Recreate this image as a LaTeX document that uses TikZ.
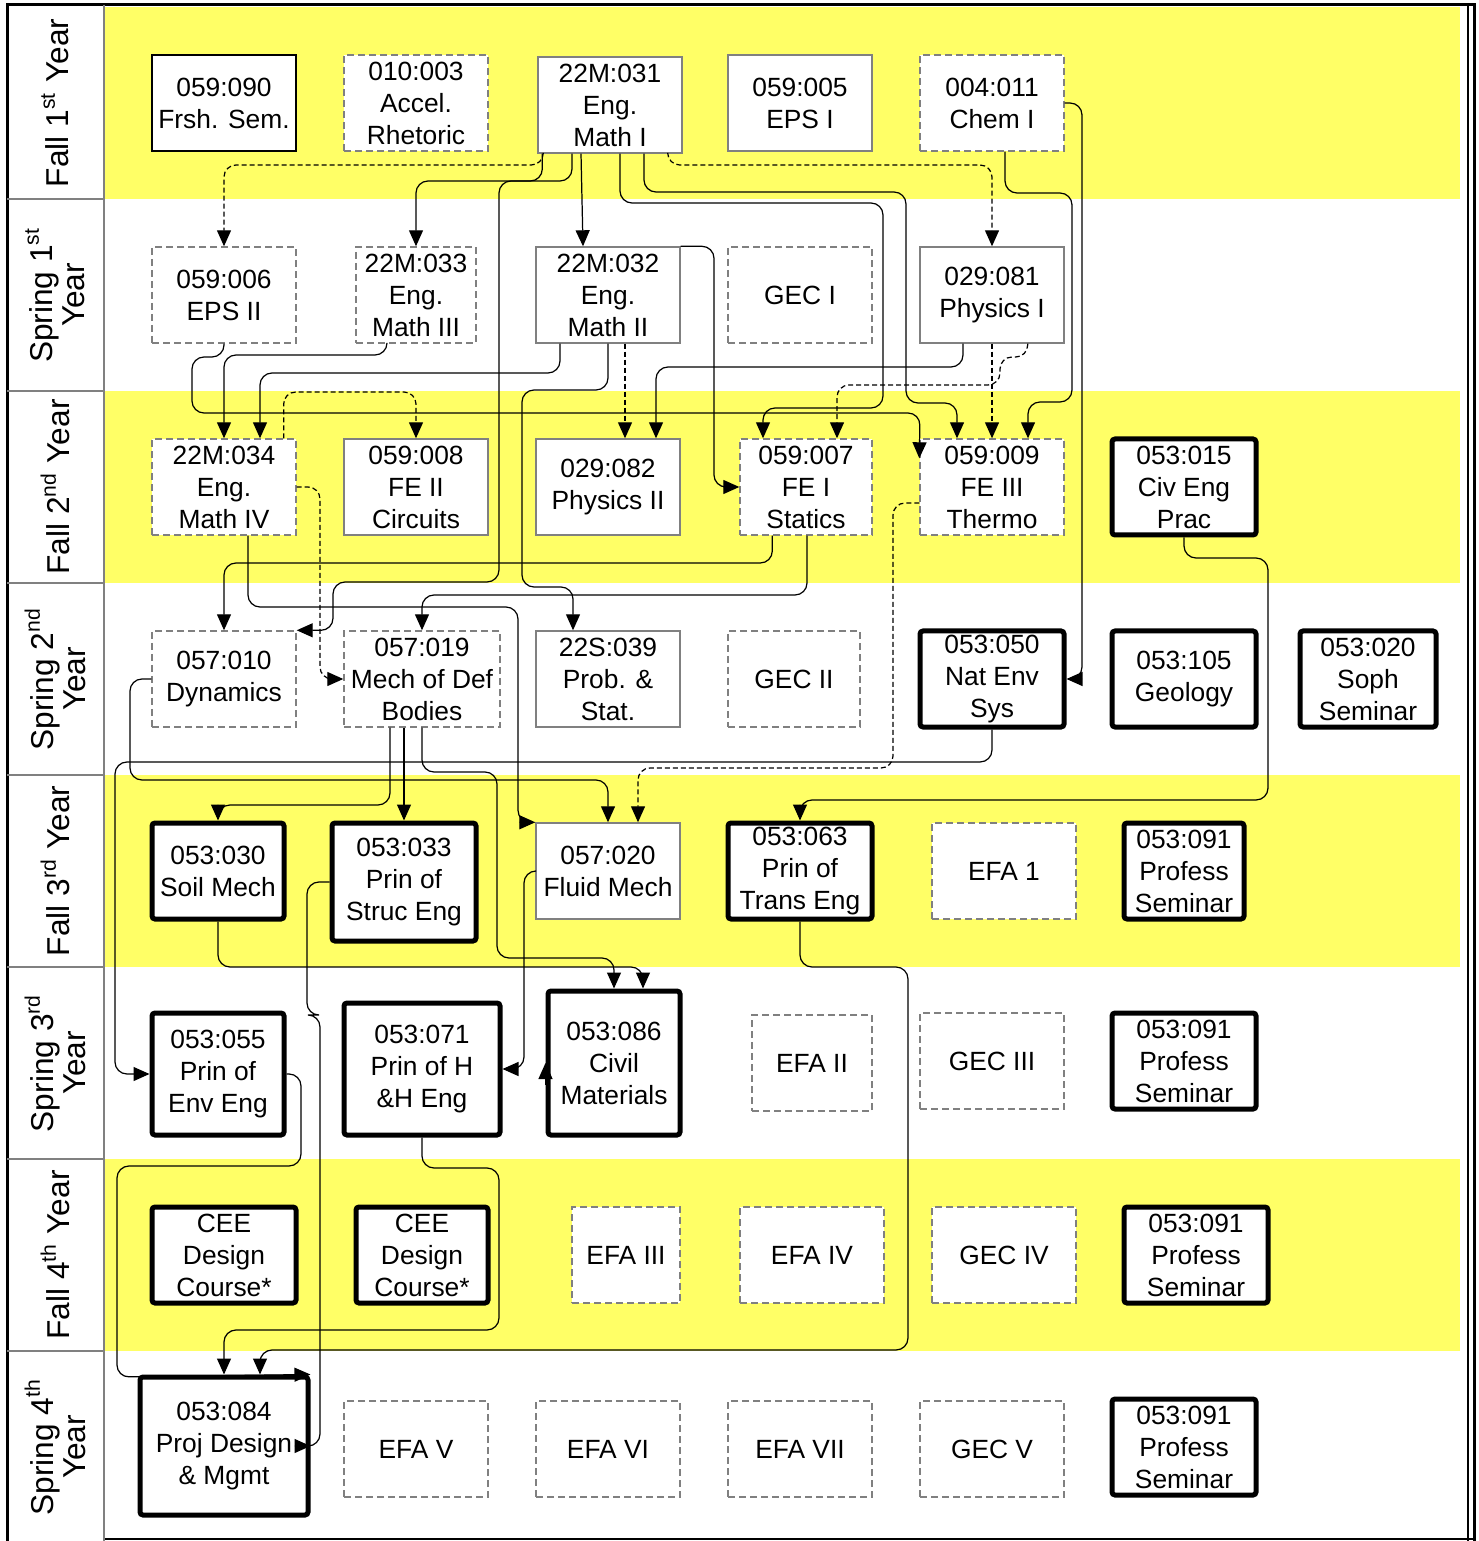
\documentclass[tikz,border=0pt]{standalone}
\usepackage{fontspec}
\setmainfont{Liberation Sans}
\usetikzlibrary{arrows.meta, calc}
\definecolor{termyellow}{RGB}{255,255,102}

\begin{document}
\begin{tikzpicture}[
  x=0.1mm, y=-0.1mm,
  box/.style={rectangle, fill=white, minimum width=14.4mm, minimum height=9.6mm, inner sep=0pt, align=center, font=\fontsize{7.5}{9.1}\selectfont},
  basebox/.style={box, draw=gray, line width=0.4pt},
  optbox/.style={box, draw=gray, line width=0.4pt, dash pattern=on 0.7mm off 0.4mm},
  reqbox/.style={box, draw=black, line width=0.5mm, rounded corners=0.3mm},
  semibox/.style={box, draw=black, line width=0.6pt},
  rowlab/.style={rotate=90, align=center, font=\fontsize{9}{9.1}\selectfont},
  arrow/.style={-{Triangle[length=1.6mm, width=1.4mm]}, line width=0.35pt, rounded corners=1.2mm},
  coarrow/.style={arrow, dash pattern=on 0.5mm off 0.3mm},
  gridline/.style={gray, line width=0.4pt}
]
\useasboundingbox (0,0) rectangle (1478,1541);

% Term bands and frame
\foreach \r in {0,2,4,6}
  \fill[termyellow] (104,{7+\r*192}) rectangle (1460,{199+\r*192});
\draw[line width=0.3mm] (7,1541) -- (7,5) -- (1474,5) -- (1474,1541);
\draw[line width=0.4pt] (1468,5) -- (1468,1541);
\draw[line width=0.4pt] (104,1539) -- (1474,1539);
\draw[gridline] (104,5) -- (104,1541);
\foreach \y in {199,391,583,775,967,1159,1351}
  \draw[gridline] (7,\y) -- (104,\y);

% Row labels
\foreach \y/\t [count=\i] in {103/{Fall 1\textsuperscript{st} Year}, 295/{Spring 1\textsuperscript{st}\\Year},
    487/{Fall 2\textsuperscript{nd} Year}, 679/{Spring 2\textsuperscript{nd}\\Year},
    871/{Fall 3\textsuperscript{rd} Year}, 1063/{Spring 3\textsuperscript{rd}\\Year},
    1255/{Fall 4\textsuperscript{th} Year}, 1447/{Spring 4\textsuperscript{th}\\Year}}
  \node[rowlab] (row\i) at (55,\y) {\t};

% Fall 1st year
\node[semibox] (frsh) at (224,103) {059:090\\Frsh. Sem.};
\node[optbox] (rhet) at (416,103) {010:003\\Accel.\\Rhetoric};
\node[basebox] (mathI) at (610,105) {22M:031\\Eng.\\Math I};
\node[basebox] (epsI) at (800,103) {059:005\\EPS I};
\node[optbox] (chem) at (992,103) {004:011\\Chem I};

% Spring 1st year
\node[optbox] (epsII) at (224,295) {059:006\\EPS II};
\node[optbox, minimum width=12mm] (mathIII) at (416,295) {22M:033\\Eng.\\Math III};
\node[basebox] (mathII) at (608,295) {22M:032\\Eng.\\Math II};
\node[optbox] (gecI) at (800,295) {GEC I};
\node[basebox] (physI) at (992,295) {029:081\\Physics I};

% Fall 2nd year
\node[optbox] (mathIV) at (224,487) {22M:034\\Eng.\\Math IV};
\node[basebox] (feII) at (416,487) {059:008\\FE II\\Circuits};
\node[basebox] (physII) at (608,487) {029:082\\Physics II};
\node[optbox, minimum width=13.2mm] (feI) at (806,487) {059:007\\FE I\\Statics};
\node[optbox] (feIII) at (992,487) {059:009\\FE III\\Thermo};
\node[reqbox] (civprac) at (1184,487) {053:015\\Civ Eng\\Prac};

% Spring 2nd year
\node[optbox] (dyn) at (224,679) {057:010\\Dynamics};
\node[optbox, minimum width=15.6mm] (mech) at (422,679) {057:019\\Mech of Def\\Bodies};
\node[basebox] (stat) at (608,679) {22S:039\\Prob. \&\\Stat.};
\node[optbox, minimum width=13.2mm] (gecII) at (794,679) {GEC II};
\node[reqbox] (natenv) at (992,679) {053:050\\Nat Env\\Sys};
\node[reqbox] (geol) at (1184,679) {053:105\\Geology};
\node[reqbox, minimum width=13.6mm] (soph) at (1368,679) {053:020\\Soph\\Seminar};

% Fall 3rd year
\node[reqbox, minimum width=13.2mm] (soil) at (218,871) {053:030\\Soil Mech};
\node[reqbox, minimum height=11.8mm] (struc) at (404,882) {053:033\\Prin of\\Struc Eng};
\node[basebox] (fluid) at (608,871) {057:020\\Fluid Mech};
\node[reqbox] (trans) at (800,871) {053:063\\Prin of\\Trans Eng};
\node[optbox] (efaI) at (1004,871) {EFA 1};
\node[reqbox, minimum width=12mm] (profI) at (1184,871) {053:091\\Profess\\Seminar};

% Spring 3rd year
\node[reqbox, minimum width=13.2mm, minimum height=12.2mm] (envEng) at (218,1074) {053:055\\Prin of\\Env Eng};
\node[reqbox, minimum width=15.6mm, minimum height=13.2mm] (hh) at (422,1069) {053:071\\Prin of H\\\&H Eng};
\node[reqbox, minimum width=13.2mm, minimum height=14.4mm] (civmat) at (614,1063) {053:086\\Civil\\Materials};
\node[optbox, minimum width=12mm] (efaII) at (812,1063) {EFA II};
\node[optbox] (gecIII) at (992,1061) {GEC III};
\node[reqbox] (profII) at (1184,1061) {053:091\\Profess\\Seminar};

% Fall 4th year
\node[reqbox] (ceeA) at (224,1255) {CEE\\Design\\Course*};
\node[reqbox, minimum width=13.2mm] (ceeB) at (422,1255) {CEE\\Design\\Course*};
\node[optbox, minimum width=10.8mm] (efaIII) at (626,1255) {EFA III};
\node[optbox] (efaIV) at (812,1255) {EFA IV};
\node[optbox] (gecIV) at (1004,1255) {GEC IV};
\node[reqbox] (profIII) at (1196,1255) {053:091\\Profess\\Seminar};

% Spring 4th year
\node[reqbox, minimum width=16.8mm, minimum height=13.8mm] (proj) at (224,1446) {053:084\\Proj Design\\\& Mgmt};
\node[optbox] (efaV) at (416,1449) {EFA V};
\node[optbox] (efaVI) at (608,1449) {EFA VI};
\node[optbox] (efaVII) at (800,1449) {EFA VII};
\node[optbox] (gecV) at (992,1449) {GEC V};
\node[reqbox] (profIV) at (1184,1447) {053:091\\Profess\\Seminar};

% Corequisites (dashed)
\draw[coarrow] ($(mathI.south west)+(6,0)$) |- (224,165) -- (epsII.north);
\draw[coarrow] ($(mathI.south east)+(-15,0)$) |- (992,165) -- (physI.north);
\draw[coarrow] (physI.south) -- (feIII.north);
\draw[coarrow] ($(physI.south east)+(-37,0)$) |- (1000,357) |- (837,385) -- ($(feI.north)+(31,0)$);
\draw[coarrow] ($(mathII.south)+(17,0)$) -- ($(physII.north)+(17,0)$);
\draw[coarrow] ($(mathIV.north east)+(-13,0)$) |- (416,392) -- (feII.north);
\draw[coarrow] (mathIV.east) -| (320,679) -- (mech.west);
\draw[coarrow] ($(feIII.west)+(0,16)$) -| (893,768) -| ($(fluid.north)+(30,0)$);

% Prerequisites out of the first year
\draw[arrow] ($(mathI.south)+(-38,0)$) |- (416,181) -- (mathIII.north);
\draw[arrow] ($(mathI.south)+(-29,0)$) -- ($(mathII.north)+(-25,0)$);
\draw[arrow] ($(mathI.south west)+(5,0)$) |- (499,181) |- (333,582) |- (dyn.north east);
\draw[arrow] ($(mathI.south)+(10,0)$) |- (883,203) |- (763,408) -- ($(feI.north)+(-43,0)$);
\draw[arrow] ($(mathI.south)+(34,0)$) |- (906,192) |- (957,403) -- ($(feIII.north)+(-35,0)$);
\draw[arrow] ($(chem.south)+(13,0)$) |- (1072,193) |- (1028,402) -- ($(feIII.north)+(36,0)$);
\draw[arrow] (chem.east) -| (1082,679) -- (natenv.east);

% Prerequisites out of spring 1st year
\draw[arrow] ($(physI.south)+(-29,0)$) |- (656,367) -- ($(physII.north)+(48,0)$);
\draw[arrow] ($(mathII.south)+(-48,0)$) |- (260,373) -- ($(mathIV.north)+(36,0)$);
\draw[arrow] ($(mathIII.south)+(-29,0)$) |- (224,355) -- (mathIV.north);
\draw[arrow] (epsII.south) |- (192,357) |- (920,413) -- ($(feIII.north west)+(0,20)$);
\draw[arrow] (mathII.south) |- (522,390) |- (573,587) -- ($(stat.north)+(-35,0)$);
\draw[arrow] (mathII.north east) -| (714,487) -- (feI.west);

% Prerequisites out of the second year
\draw[arrow] ($(mathIV.south)+(24,0)$) |- (518,607) |- (fluid.north west);
\draw[arrow] ($(feI.south)+(1,0)$) |- (422,595) -- (mech.north);
\draw[arrow] ($(feI.south west)+(33,0)$) |- (224,563) -- (dyn.north);
\draw[arrow] (civprac.south) |- (1268,558) |- (800,800) -- (trans.north);
\draw[arrow] (natenv.south) |- (115,762) |- (envEng.west);
\draw[arrow] (dyn.west) -| (130,780) -| (fluid.north);
\draw[arrow] (struc.north |- mech.south) -- (struc.north);
\draw[arrow] ($(mech.south)+(-32,0)$) |- (218,805) -- (soil.north);
\draw[arrow] (mech.south) |- (497,772) |- (614,958) -- (civmat.north);

% Prerequisites out of the third year
\draw[arrow] (soil.south) |- (643,967) -- ($(civmat.north)+(29,0)$);
\draw[arrow] (fluid.west) -| (524,1069) -- (hh.east);
\draw[arrow] ($(civmat.west)+(0,22)$) -- (civmat.west);
\draw[arrow] (struc.west) -| (307,1015) -| (320,1446) -- (proj.east);
\draw[arrow] (envEng.east) -| (301,1166) -| (117,1377) -- (proj.north east);
\draw[arrow] (hh.south) |- (499,1168) |- (224,1330) -- (proj.north);
\draw[arrow] (trans.south) |- (908,967) |- (260,1350) -- ($(proj.north)+(36,0)$);

\end{tikzpicture}
\end{document}
